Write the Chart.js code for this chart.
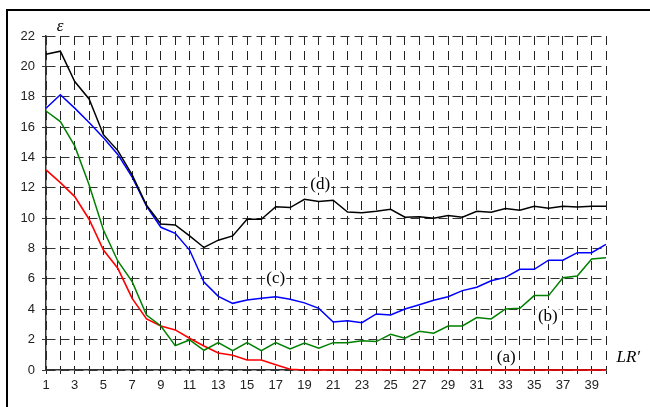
<!DOCTYPE html>
<html>
<head>
<meta charset="utf-8">
<script src="https://cdn.jsdelivr.net/npm/chart.js@4/dist/chart.umd.min.js"></script>
<style>
  html, body { margin: 0; padding: 0; background: #fff; }
  #wrap { width: 650px; height: 407px; position: relative; }
</style>
</head>
<body>
<div id="wrap"><canvas id="c" width="650" height="407"></canvas></div>
<script>
// Categories (LR')
const lrValues = [1,2,3,4,5,6,7,8,9,10,11,12,13,14,15,16,17,18,19,20,
                  21,22,23,24,25,26,27,28,29,30,31,32,33,34,35,36,37,38,39,40];
// Series (d) black
const seriesD = [20.8,21.0,19.0,17.85,15.5,14.45,12.85,10.85,9.62,9.55,
                 8.83,8.07,8.55,8.83,9.93,9.93,10.75,10.7,11.24,11.1,
                 11.18,10.4,10.36,10.45,10.58,10.06,10.1,9.99,10.17,10.06,
                 10.45,10.39,10.63,10.52,10.78,10.65,10.78,10.74,10.78,10.78];
// Series (c) blue
const seriesC = [17.24,18.13,17.25,16.3,15.3,14.2,12.7,10.8,9.4,9.0,
                 7.9,5.8,4.85,4.39,4.61,4.72,4.82,4.66,4.42,4.06,
                 3.16,3.25,3.12,3.69,3.62,4.02,4.3,4.59,4.83,5.23,
                 5.45,5.88,6.1,6.63,6.63,7.23,7.23,7.73,7.73,8.28];
// Series (b) green
const seriesB = [17.06,16.36,14.76,12.2,9.22,7.18,5.82,3.62,2.9,1.6,
                 1.98,1.3,1.8,1.27,1.8,1.27,1.8,1.38,1.78,1.43,
                 1.8,1.8,1.93,1.87,2.35,2.09,2.55,2.42,2.9,2.9,
                 3.45,3.36,4.02,4.06,4.9,4.9,6.08,6.19,7.31,7.4];
// Series (a) red
const seriesA = [13.18,12.34,11.42,9.93,7.9,6.7,4.72,3.36,2.9,2.64,
                 2.09,1.58,1.12,0.97,0.66,0.66,0.35,0.05,0,0,
                 0,0,0,0,0,0,0,0,0,0,
                 0,0,0,0,0,0,0,0,0,0];
// Y tick values
const yTicks = [0,2,4,6,8,10,12,14,16,18,20,22];

function pts(arr) { return arr.map((v, i) => ({ x: lrValues[i], y: v })); }

const annotations = [
  { text: 'ε',   x: 1.98, y: 22.6, font: 'italic 17px "Liberation Serif"', bg: false },
  { text: '(d)', x: 20.1, y: 12.2, font: '17px "Liberation Serif"', bg: true },
  { text: '(c)', x: 17.0, y: 6.05, font: '17px "Liberation Serif"', bg: true },
  { text: '(b)', x: 35.95, y: 3.55, font: '17px "Liberation Serif"', bg: true },
  { text: '(a)', x: 33.05, y: 0.85, font: '17px "Liberation Serif"', bg: true },
  { text: "LR′", x: 41.55, y: 0.85, font: 'italic 17px "Liberation Serif"', bg: false }
];

const extras = {
  id: 'extras',
  afterDatasetsDraw(chart) {
    const ctx = chart.ctx;
    const xs = chart.scales.x, ys = chart.scales.y;
    ctx.save();
    ctx.textAlign = 'center';
    ctx.textBaseline = 'middle';
    for (const a of annotations) {
      ctx.font = a.font;
      const px = xs.getPixelForValue(a.x), py = ys.getPixelForValue(a.y);
      if (a.bg) {
        const w = ctx.measureText(a.text).width;
        ctx.fillStyle = '#fff';
        ctx.fillRect(px - w / 2 - 1, py - 8, w + 2, 16);
      }
      ctx.fillStyle = '#000';
      ctx.fillText(a.text, px, py);
    }
    // outer frame (top & left visible)
    ctx.strokeStyle = '#000';
    ctx.lineWidth = 2;
    ctx.setLineDash([]);
    ctx.beginPath();
    ctx.moveTo(7, 420);
    ctx.lineTo(7, 10);
    ctx.lineTo(660, 10);
    ctx.stroke();
    ctx.restore();
  }
};

new Chart(document.getElementById('c'), {
  type: 'line',
  data: {
    datasets: [
      { label: '(d)', data: pts(seriesD), borderColor: '#000000', borderWidth: 1.5, clip: false },
      { label: '(c)', data: pts(seriesC), borderColor: '#0000ff', borderWidth: 1.5, clip: false },
      { label: '(b)', data: pts(seriesB), borderColor: '#008000', borderWidth: 1.5, clip: false },
      { label: '(a)', data: pts(seriesA), borderColor: '#ff0000', borderWidth: 1.6, clip: false }
    ]
  },
  options: {
    responsive: false,
    animation: false,
    events: [],
    elements: { point: { radius: 0 }, line: { tension: 0, fill: false } },
    layout: { padding: { top: 36, right: 44, left: 0, bottom: 0 } },
    plugins: { legend: { display: false }, tooltip: { enabled: false } },
    scales: {
      x: {
        type: 'linear',
        min: 1, max: 40,
        afterFit(s) { s.height = 37; },
        ticks: {
          stepSize: 1, autoSkip: false, maxRotation: 0, padding: 4,
          color: '#222', font: { family: '"Liberation Sans", Arial', size: 13 },
          callback: (v) => (v % 2 === 1 ? String(v) : '')
        },
        grid: { color: '#222', lineWidth: 1, tickLength: 4, tickColor: '#222' },
        border: { display: true, color: '#333', width: 1.5, dash: [9, 6] }
      },
      y: {
        min: 0, max: 22,
        afterFit(s) { s.width = 46; },
        afterBuildTicks(s) { s.ticks = yTicks.map(v => ({ value: v })); },
        ticks: {
          padding: 7, color: '#222',
          font: { family: '"Liberation Sans", Arial', size: 13 }
        },
        grid: { color: '#333', lineWidth: 1, tickLength: 4, tickColor: '#333' },
        border: { display: true, color: '#333', width: 1.5, dash: [9, 5] }
      }
    }
  },
  plugins: [extras]
});
</script>
</body>
</html>
